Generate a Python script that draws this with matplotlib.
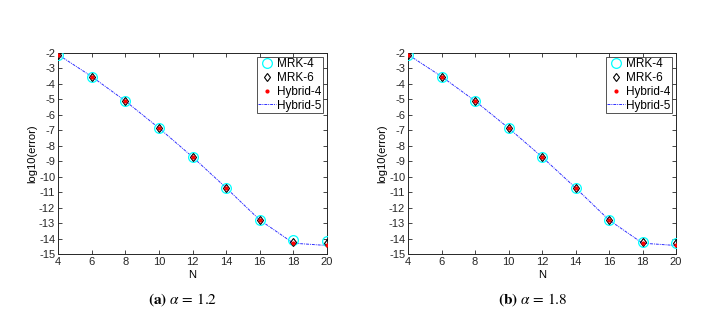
import matplotlib
matplotlib.use("Agg")
import matplotlib.pyplot as plt
import numpy as np

N = [4, 6, 8, 10, 12, 14, 16, 18, 20]
base = [-2.1, -3.52, -5.1, -6.85, -8.72, -10.72, -12.8]

# panel (a) alpha = 1.2
a_mrk4 = base + [-14.1, -14.15]
a_mrk6 = base + [-14.2, -14.3]
a_hyb4 = base + [-14.3, -14.45]
a_hyb5 = base + [-14.3, -14.45]

# panel (b) alpha = 1.8
b_mrk4 = base + [-14.2, -14.3]
b_mrk6 = base + [-14.2, -14.3]
b_hyb4 = base + [-14.3, -14.45]
b_hyb5 = base + [-14.3, -14.45]

xticks = [4, 6, 8, 10, 12, 14, 16, 18, 20]
yticks = list(range(-15, -1))

plt.rcParams['font.family'] = ['Liberation Sans', 'DejaVu Sans']

fig = plt.figure(figsize=(7.08, 3.18), dpi=100)
ax_a = fig.add_axes([58/708, 64/318, 269/708, 201/318])
ax_b = fig.add_axes([408/708, 64/318, 268/708, 201/318])

def draw(ax, mrk4, mrk6, hyb4, hyb5):
    ax.plot(N, mrk4, 'o', mfc='none', mec='cyan', ms=7, mew=0.9, label='MRK-4', zorder=3)
    ax.plot(N, mrk6, 'd', mfc='none', mec='black', ms=4.5, mew=0.8, label='MRK-6', zorder=4)
    ax.plot(N, hyb4, '.', color='red', ms=4, label='Hybrid-4', zorder=5)
    ax.plot(N, hyb5, color='#3030ff', lw=0.7, ls=(0, (3, 1, 1, 1)), label='Hybrid-5', zorder=2)
    ax.set_xlim(4, 20)
    ax.set_ylim(-15, -2)
    ax.set_xticks(xticks)
    ax.set_yticks(yticks)
    ax.set_yticklabels([str(v) for v in yticks])
    ax.tick_params(direction='in', top=True, right=True, labelsize=8, length=3, width=0.6, colors='#262626', pad=2)
    for s in ax.spines.values():
        s.set_linewidth(0.7)
        s.set_color('#262626')
    ax.set_xlabel('N', fontsize=8, labelpad=2)
    ax.set_ylabel('log10(error)', fontsize=8, labelpad=1)
    leg = ax.legend(loc='upper right', fontsize=8.5, frameon=True, fancybox=False,
                    edgecolor='#262626', borderpad=0.1, labelspacing=0.15, handlelength=1.5,
                    handletextpad=0.15, borderaxespad=0.35)
    leg.get_frame().set_linewidth(0.7)

draw(ax_a, a_mrk4, a_mrk6, a_hyb4, a_hyb5)
draw(ax_b, b_mrk4, b_mrk6, b_hyb4, b_hyb5)

fig.text(183/708, 1 - 300/318, r'$\mathbf{(a)}\ \alpha\,=\,1.2$', ha='center', va='center',
         fontsize=11, family='serif', math_fontfamily='stix')
fig.text(533/708, 1 - 300/318, r'$\mathbf{(b)}\ \alpha\,=\,1.8$', ha='center', va='center',
         fontsize=11, family='serif', math_fontfamily='stix')

fig.savefig('out.png', dpi=100)
